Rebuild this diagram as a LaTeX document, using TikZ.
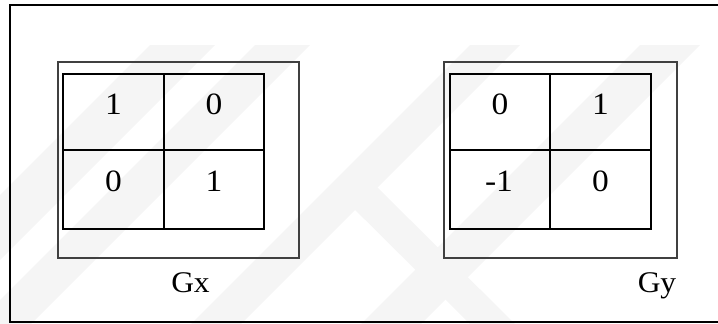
\documentclass[tikz,border=0pt]{standalone}
\usepackage{fontspec}
\setmainfont{Liberation Serif}
\begin{document}
\begin{tikzpicture}[x=1pt,y=-1pt,
  framestyle/.style={line width=2pt, line cap=rect},
  panel/.style={draw=black!75, line width=1.2pt},
  gridline/.style={line width=2.2pt},
  wmark/.style={fill=black!4, draw=none},
  num/.style={font=\fontsize{31}{31}\selectfont, inner sep=0pt, anchor=base, xscale=1.08},
  lbl/.style={font=\fontsize{30}{30}\selectfont, inner sep=0pt, anchor=base, xscale=1.05}]
\useasboundingbox (0,0) rectangle (718,324);
% faint watermark bands
\fill[wmark] (150,45) -- (215,45) -- (0,260) -- (0,195) -- cycle;
\fill[wmark] (255,45) -- (310,45) -- (31,324) -- (-24,324) -- cycle;
\fill[wmark] (470,45) -- (520,45) -- (241,324) -- (191,324) -- cycle;
\fill[wmark] (640,45) -- (700,45) -- (421,324) -- (361,324) -- cycle;
\fill[wmark] (330,185) -- (375,185) -- (515,324) -- (470,324) -- cycle;
% outer frame (open on the right)
\coordinate (ftr) at (718,5);
\coordinate (ftl) at (10,5);
\coordinate (fbl) at (10,322);
\coordinate (fbr) at (718,322);
\draw[framestyle] (ftr) -- (ftl) -- (fbl) -- (fbr);
% left panel
\draw[panel] (58,62) rectangle (299,258);
\draw[gridline] (63,74) rectangle (264,229);
\draw[gridline] (164,74) -- (164,229);
\draw[gridline] (63,150) -- (264,150);
\node[num] (a11) at (113.5,114.5) {1};
\node[num] (a12) at (214,114.5) {0};
\node[num] (a21) at (113.5,191) {0};
\node[num] (a22) at (214,191) {1};
\node[lbl] (gx) at (190.5,292) {Gx};
% right panel
\draw[panel] (444,62) rectangle (677,258);
\draw[gridline] (450,74) rectangle (651,229);
\draw[gridline] (550,74) -- (550,229);
\draw[gridline] (450,150) -- (651,150);
\node[num] (b11) at (500,114.5) {0};
\node[num] (b12) at (600.5,114.5) {1};
\node[num] (b21) at (499,191) {-1};
\node[num] (b22) at (600.5,191) {0};
\node[lbl] (gy) at (657,292) {Gy};
\end{tikzpicture}
\end{document}
